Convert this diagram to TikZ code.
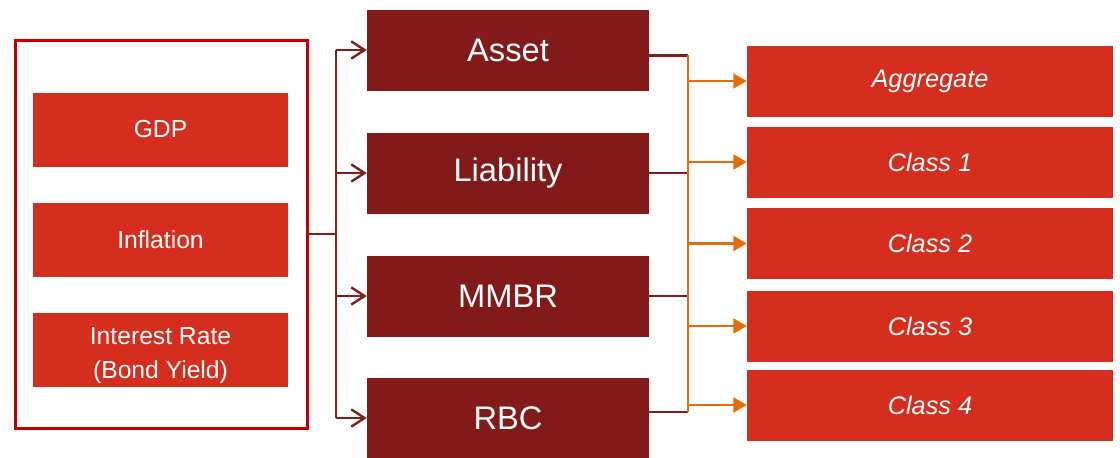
\documentclass[tikz,border=0pt]{standalone}
\usepackage{fontspec}
\setmainfont{Liberation Sans}
\usepackage{tikz}
\usetikzlibrary{arrows.meta}

\definecolor{frameRed}{RGB}{192,0,0}
\definecolor{boxRed}{RGB}{214,46,30}
\definecolor{boxMaroon}{RGB}{130,26,26}
\definecolor{lineMaroon}{RGB}{128,30,30}
\definecolor{lineOrange}{RGB}{228,108,10}

\begin{document}
\begin{tikzpicture}[x=0.75pt,y=0.75pt,yscale=-1,xscale=1,
  driver/.style={fill=boxRed, text=white, inner sep=0pt, minimum width=191.25pt, minimum height=55.5pt, align=center, font=\fontsize{18.5}{26}\selectfont},
  metric/.style={fill=boxMaroon, text=white, inner sep=0pt, minimum width=211.5pt, minimum height=60.75pt, font=\fontsize{24.5}{28}\selectfont},
  segment/.style={fill=boxRed, text=white, inner sep=0pt, minimum width=274.5pt, minimum height=53.25pt, font=\fontsize{19}{22}\selectfont\itshape},
  feed/.style={draw=lineMaroon, line width=2pt},
  feedarrow/.style={feed, -{Straight Barb[length=10pt,width=13pt,line width=1.8pt]}},
  link/.style={draw=lineMaroon, line width=2pt},
  spread/.style={draw=lineOrange, line width=2.2pt},
  spreadarrow/.style={spread, -{Triangle[length=10pt,width=11pt]}}]
\useasboundingbox (0,0) rectangle (1120,457);

%Shape: Rectangle [drivers frame]
\node [draw=frameRed, line width=2.25pt, inner sep=0pt, minimum width=219pt, minimum height=291pt] (drivers) at (161,234) {};

% Text Node
\node [driver] (gdp) at (160.5,129.5) {GDP};
% Text Node
\node [driver] (inflation) at (160.5,240) {Inflation};
% Text Node
\node [driver] (interest) at (160.5,350) {\rule{0pt}{21pt}Interest Rate\\(Bond Yield)};

% Text Node
\node [metric] (asset) at (508,50) {Asset};
% Text Node
\node [metric] (liability) at (508,173) {Liability};
% Text Node
\node [metric] (mmbr) at (508,296) {MMBR};
% Text Node
\node [metric] (rbc) at (508,418) {RBC};

% Text Node
\node [segment] (aggregate) at (930,81) {Aggregate};
% Text Node
\node [segment] (class1) at (930,162) {Class 1};
% Text Node
\node [segment] (class2) at (930,243.5) {Class 2};
% Text Node
\node [segment] (class3) at (930,326) {Class 3};
% Text Node
\node [segment] (class4) at (930,405) {Class 4};

%Straight Lines [left bus]
\coordinate (busL) at (336,234);
\draw [feed] (drivers.east) -- (busL);
\draw [feed] (asset.west -| busL) -- (rbc.west -| busL);
\draw [feedarrow] (asset.west -| busL) -- (asset.west);
\draw [feedarrow] (liability.west -| busL) -- (liability.west);
\draw [feedarrow] (mmbr.west -| busL) -- (mmbr.west);
\draw [feedarrow] (rbc.west -| busL) -- (rbc.west);

%Straight Lines [right bus]
\coordinate (busR) at (688,0);
\coordinate (assetout) at ([yshift=4pt]asset.east);
\coordinate (rbcout) at ([yshift=-4.5pt]rbc.east);
\draw [link] (assetout) -- (assetout -| busR);
\draw [link] (liability.east) -- (liability.east -| busR);
\draw [link] (mmbr.east) -- (mmbr.east -| busR);
\draw [link] (rbcout) -- (rbcout -| busR);
\draw [spread] (assetout -| busR) -- (rbcout -| busR);
\draw [spreadarrow] (aggregate.west -| busR) -- (aggregate.west);
\draw [spreadarrow] (class1.west -| busR) -- (class1.west);
\draw [spreadarrow] (class2.west -| busR) -- (class2.west);
\draw [spreadarrow] (class3.west -| busR) -- (class3.west);
\draw [spreadarrow] (class4.west -| busR) -- (class4.west);

\end{tikzpicture}
\end{document}
